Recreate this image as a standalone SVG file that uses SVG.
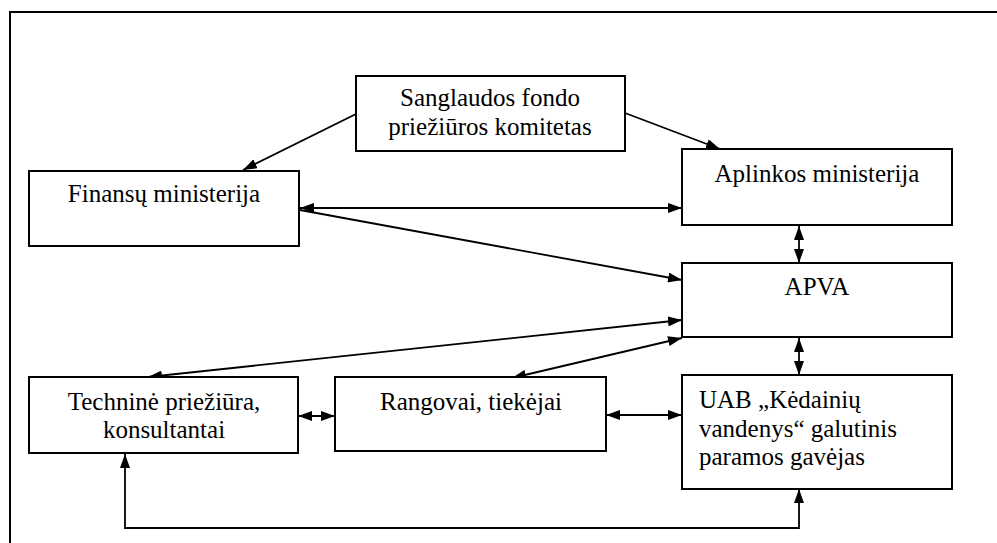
<svg xmlns="http://www.w3.org/2000/svg" width="997" height="543" viewBox="0 0 997 543">
<style>
.box{fill:#fff;stroke:#000;stroke-width:2}
.t{font-family:'Liberation Serif','Times New Roman',Times,'DejaVu Serif',serif;font-size:25px;fill:#000}
.c{text-anchor:middle}
.ln{fill:none;stroke:#000;stroke-width:1.8}
</style>
<defs>
<marker id="ah" viewBox="0 0 14 10" refX="14" refY="5" markerWidth="14" markerHeight="10" markerUnits="userSpaceOnUse" orient="auto-start-reverse">
<path d="M0,0 L14,5 L0,10 z" fill="#000"/>
</marker>
</defs>
<rect width="997" height="543" fill="#fff"/>
<path d="M10,543 L10,12 L997,12" fill="none" stroke="#000" stroke-width="2"/>
<g id="connectors">
<line class="ln" x1="356" y1="114" x2="243" y2="170" marker-end="url(#ah)"/>
<line class="ln" x1="625" y1="113" x2="720" y2="149" marker-end="url(#ah)"/>
<line class="ln" x1="300" y1="208" x2="682" y2="208" marker-start="url(#ah)" marker-end="url(#ah)"/>
<line class="ln" x1="300" y1="210" x2="682" y2="280" marker-end="url(#ah)"/>
<line class="ln" x1="799" y1="226" x2="799" y2="263" marker-start="url(#ah)" marker-end="url(#ah)"/>
<line class="ln" x1="148" y1="377" x2="682" y2="320" marker-start="url(#ah)" marker-end="url(#ah)"/>
<line class="ln" x1="512" y1="378" x2="682" y2="338" marker-start="url(#ah)" marker-end="url(#ah)"/>
<line class="ln" x1="298" y1="416" x2="335" y2="416" marker-start="url(#ah)" marker-end="url(#ah)"/>
<line class="ln" x1="606" y1="415" x2="682" y2="415" marker-start="url(#ah)" marker-end="url(#ah)"/>
<line class="ln" x1="799" y1="338" x2="799" y2="375" marker-start="url(#ah)" marker-end="url(#ah)"/>
<polyline class="ln" points="125,454 125,528 799,528 799,489" marker-start="url(#ah)" marker-end="url(#ah)"/>
</g>
<g id="sanglaudos">
<rect class="box" x="356" y="76" width="269" height="75"/>
<text class="t c" x="490" y="106">Sanglaudos fondo</text>
<text class="t c" x="490" y="135">priežiūros komitetas</text>
</g>
<g id="finansu">
<rect class="box" x="29" y="171" width="270" height="75"/>
<text class="t c" x="164" y="202">Finansų ministerija</text>
</g>
<g id="aplinkos">
<rect class="box" x="682" y="149" width="270" height="76"/>
<text class="t c" x="817" y="182">Aplinkos ministerija</text>
</g>
<g id="apva">
<rect class="box" x="682" y="263" width="270" height="74"/>
<text class="t c" x="817" y="295">APVA</text>
</g>
<g id="uab">
<rect class="box" x="682" y="375" width="270" height="114"/>
<text class="t" x="699" y="408">UAB „Kėdainių</text>
<text class="t" x="699" y="437">vandenys“ galutinis</text>
<text class="t" x="699" y="465">paramos gavėjas</text>
</g>
<g id="technine">
<rect class="box" x="29" y="377" width="269" height="76"/>
<text class="t c" x="164" y="410">Techninė priežiūra,</text>
<text class="t c" x="164" y="438">konsultantai</text>
</g>
<g id="rangovai">
<rect class="box" x="335" y="377" width="271" height="74"/>
<text class="t c" x="471" y="410">Rangovai, tiekėjai</text>
</g>
</svg>
